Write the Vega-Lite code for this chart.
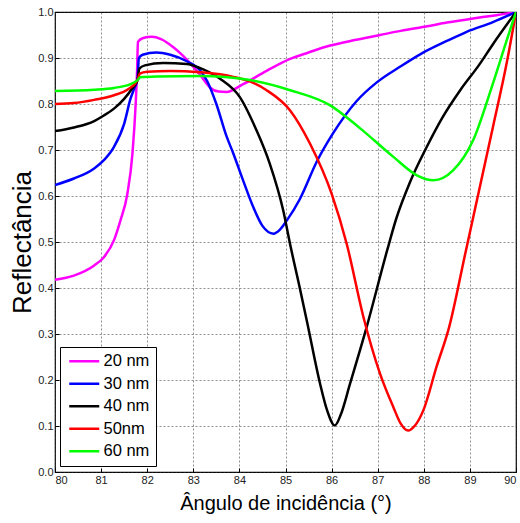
{
  "$schema": "https://vega.github.io/schema/vega-lite/v6.json",
  "autosize": "none",
  "width": 461,
  "height": 460,
  "padding": {"left": 55, "top": 12, "right": 4, "bottom": 51},
  "config": {
    "font": "Liberation Sans",
    "view": {"stroke": "#000", "strokeWidth": 1.2},
    "axis": {
      "grid": true,
      "gridDash": [2, 2],
      "gridColor": "#333",
      "gridOpacity": 0.55,
      "domain": false,
      "tickColor": "#000",
      "tickSize": -4,
      "labelFont": "Liberation Sans",
      "labelFontSize": 11,
      "labelColor": "#222",
      "titleFont": "Liberation Sans",
      "titleFontWeight": "normal",
      "titleColor": "#000"
    }
  },
  "data": {
    "values": [
      {"x": 80.0, "y": 0.418, "s": "20 nm"},
      {"x": 80.41, "y": 0.427, "s": "20 nm"},
      {"x": 80.85, "y": 0.449, "s": "20 nm"},
      {"x": 81.06, "y": 0.467, "s": "20 nm"},
      {"x": 81.28, "y": 0.504, "s": "20 nm"},
      {"x": 81.42, "y": 0.547, "s": "20 nm"},
      {"x": 81.57, "y": 0.605, "s": "20 nm"},
      {"x": 81.68, "y": 0.692, "s": "20 nm"},
      {"x": 81.75, "y": 0.8, "s": "20 nm"},
      {"x": 81.78, "y": 0.87, "s": "20 nm"},
      {"x": 81.8, "y": 0.935, "s": "20 nm"},
      {"x": 81.9, "y": 0.943, "s": "20 nm"},
      {"x": 82.1, "y": 0.946, "s": "20 nm"},
      {"x": 82.3, "y": 0.941, "s": "20 nm"},
      {"x": 82.56, "y": 0.924, "s": "20 nm"},
      {"x": 82.93, "y": 0.889, "s": "20 nm"},
      {"x": 83.15, "y": 0.863, "s": "20 nm"},
      {"x": 83.36, "y": 0.836, "s": "20 nm"},
      {"x": 83.55, "y": 0.827, "s": "20 nm"},
      {"x": 83.72, "y": 0.826, "s": "20 nm"},
      {"x": 84.08, "y": 0.843, "s": "20 nm"},
      {"x": 84.59, "y": 0.872, "s": "20 nm"},
      {"x": 85.1, "y": 0.898, "s": "20 nm"},
      {"x": 85.5, "y": 0.912, "s": "20 nm"},
      {"x": 85.97, "y": 0.927, "s": "20 nm"},
      {"x": 86.5, "y": 0.939, "s": "20 nm"},
      {"x": 87.05, "y": 0.95, "s": "20 nm"},
      {"x": 87.5, "y": 0.959, "s": "20 nm"},
      {"x": 88.07, "y": 0.969, "s": "20 nm"},
      {"x": 88.5, "y": 0.977, "s": "20 nm"},
      {"x": 89.07, "y": 0.986, "s": "20 nm"},
      {"x": 89.5, "y": 0.992, "s": "20 nm"},
      {"x": 90.0, "y": 1.0, "s": "20 nm"},

      {"x": 80.0, "y": 0.624, "s": "30 nm"},
      {"x": 80.41, "y": 0.638, "s": "30 nm"},
      {"x": 80.85, "y": 0.66, "s": "30 nm"},
      {"x": 81.06, "y": 0.678, "s": "30 nm"},
      {"x": 81.28, "y": 0.707, "s": "30 nm"},
      {"x": 81.5, "y": 0.757, "s": "30 nm"},
      {"x": 81.64, "y": 0.812, "s": "30 nm"},
      {"x": 81.72, "y": 0.834, "s": "30 nm"},
      {"x": 81.79, "y": 0.855, "s": "30 nm"},
      {"x": 81.82, "y": 0.9, "s": "30 nm"},
      {"x": 81.9, "y": 0.907, "s": "30 nm"},
      {"x": 82.2, "y": 0.912, "s": "30 nm"},
      {"x": 82.5, "y": 0.907, "s": "30 nm"},
      {"x": 82.86, "y": 0.893, "s": "30 nm"},
      {"x": 83.15, "y": 0.873, "s": "30 nm"},
      {"x": 83.3, "y": 0.85, "s": "30 nm"},
      {"x": 83.5, "y": 0.8, "s": "30 nm"},
      {"x": 83.72, "y": 0.73, "s": "30 nm"},
      {"x": 83.87, "y": 0.692, "s": "30 nm"},
      {"x": 84.08, "y": 0.634, "s": "30 nm"},
      {"x": 84.3, "y": 0.576, "s": "30 nm"},
      {"x": 84.5, "y": 0.535, "s": "30 nm"},
      {"x": 84.74, "y": 0.518, "s": "30 nm"},
      {"x": 84.88, "y": 0.527, "s": "30 nm"},
      {"x": 85.03, "y": 0.547, "s": "30 nm"},
      {"x": 85.31, "y": 0.593, "s": "30 nm"},
      {"x": 85.68, "y": 0.675, "s": "30 nm"},
      {"x": 86.03, "y": 0.736, "s": "30 nm"},
      {"x": 86.54, "y": 0.806, "s": "30 nm"},
      {"x": 86.98, "y": 0.847, "s": "30 nm"},
      {"x": 87.5, "y": 0.882, "s": "30 nm"},
      {"x": 87.92, "y": 0.908, "s": "30 nm"},
      {"x": 88.5, "y": 0.937, "s": "30 nm"},
      {"x": 88.93, "y": 0.957, "s": "30 nm"},
      {"x": 89.5, "y": 0.978, "s": "30 nm"},
      {"x": 90.0, "y": 1.0, "s": "30 nm"},

      {"x": 80.0, "y": 0.741, "s": "40 nm"},
      {"x": 80.41, "y": 0.749, "s": "40 nm"},
      {"x": 80.85, "y": 0.763, "s": "40 nm"},
      {"x": 81.06, "y": 0.775, "s": "40 nm"},
      {"x": 81.28, "y": 0.79, "s": "40 nm"},
      {"x": 81.5, "y": 0.811, "s": "40 nm"},
      {"x": 81.67, "y": 0.833, "s": "40 nm"},
      {"x": 81.79, "y": 0.852, "s": "40 nm"},
      {"x": 81.83, "y": 0.877, "s": "40 nm"},
      {"x": 81.95, "y": 0.884, "s": "40 nm"},
      {"x": 82.35, "y": 0.889, "s": "40 nm"},
      {"x": 82.86, "y": 0.887, "s": "40 nm"},
      {"x": 83.15, "y": 0.878, "s": "40 nm"},
      {"x": 83.58, "y": 0.855, "s": "40 nm"},
      {"x": 84.01, "y": 0.815, "s": "40 nm"},
      {"x": 84.37, "y": 0.743, "s": "40 nm"},
      {"x": 84.66, "y": 0.67, "s": "40 nm"},
      {"x": 84.95, "y": 0.569, "s": "40 nm"},
      {"x": 85.1, "y": 0.495, "s": "40 nm"},
      {"x": 85.31, "y": 0.4, "s": "40 nm"},
      {"x": 85.46, "y": 0.33, "s": "40 nm"},
      {"x": 85.75, "y": 0.192, "s": "40 nm"},
      {"x": 85.9, "y": 0.135, "s": "40 nm"},
      {"x": 86.07, "y": 0.101, "s": "40 nm"},
      {"x": 86.2, "y": 0.125, "s": "40 nm"},
      {"x": 86.4, "y": 0.192, "s": "40 nm"},
      {"x": 86.76, "y": 0.315, "s": "40 nm"},
      {"x": 87.2, "y": 0.48, "s": "40 nm"},
      {"x": 87.4, "y": 0.55, "s": "40 nm"},
      {"x": 87.7, "y": 0.63, "s": "40 nm"},
      {"x": 88.06, "y": 0.706, "s": "40 nm"},
      {"x": 88.4, "y": 0.77, "s": "40 nm"},
      {"x": 88.79, "y": 0.83, "s": "40 nm"},
      {"x": 89.2, "y": 0.885, "s": "40 nm"},
      {"x": 89.5, "y": 0.93, "s": "40 nm"},
      {"x": 90.0, "y": 1.0, "s": "40 nm"},

      {"x": 80.0, "y": 0.8, "s": "50nm"},
      {"x": 80.41, "y": 0.802, "s": "50nm"},
      {"x": 80.85, "y": 0.809, "s": "50nm"},
      {"x": 81.28, "y": 0.819, "s": "50nm"},
      {"x": 81.57, "y": 0.831, "s": "50nm"},
      {"x": 81.79, "y": 0.852, "s": "50nm"},
      {"x": 81.84, "y": 0.866, "s": "50nm"},
      {"x": 82.0, "y": 0.87, "s": "50nm"},
      {"x": 82.5, "y": 0.872, "s": "50nm"},
      {"x": 83.15, "y": 0.869, "s": "50nm"},
      {"x": 83.87, "y": 0.859, "s": "50nm"},
      {"x": 84.3, "y": 0.846, "s": "50nm"},
      {"x": 84.59, "y": 0.83, "s": "50nm"},
      {"x": 85.1, "y": 0.786, "s": "50nm"},
      {"x": 85.53, "y": 0.714, "s": "50nm"},
      {"x": 86.0, "y": 0.605, "s": "50nm"},
      {"x": 86.33, "y": 0.495, "s": "50nm"},
      {"x": 86.69, "y": 0.337, "s": "50nm"},
      {"x": 87.05, "y": 0.214, "s": "50nm"},
      {"x": 87.34, "y": 0.141, "s": "50nm"},
      {"x": 87.5, "y": 0.105, "s": "50nm"},
      {"x": 87.66, "y": 0.09, "s": "50nm"},
      {"x": 87.8, "y": 0.1, "s": "50nm"},
      {"x": 87.99, "y": 0.134, "s": "50nm"},
      {"x": 88.28, "y": 0.23, "s": "50nm"},
      {"x": 88.55, "y": 0.315, "s": "50nm"},
      {"x": 88.9, "y": 0.475, "s": "50nm"},
      {"x": 89.5, "y": 0.75, "s": "50nm"},
      {"x": 89.8, "y": 0.89, "s": "50nm"},
      {"x": 90.0, "y": 1.0, "s": "50nm"},

      {"x": 80.0, "y": 0.828, "s": "60 nm"},
      {"x": 80.85, "y": 0.831, "s": "60 nm"},
      {"x": 81.28, "y": 0.835, "s": "60 nm"},
      {"x": 81.64, "y": 0.843, "s": "60 nm"},
      {"x": 81.79, "y": 0.852, "s": "60 nm"},
      {"x": 81.85, "y": 0.858, "s": "60 nm"},
      {"x": 82.2, "y": 0.86, "s": "60 nm"},
      {"x": 83.15, "y": 0.861, "s": "60 nm"},
      {"x": 84.23, "y": 0.852, "s": "60 nm"},
      {"x": 85.1, "y": 0.83, "s": "60 nm"},
      {"x": 85.97, "y": 0.797, "s": "60 nm"},
      {"x": 86.62, "y": 0.747, "s": "60 nm"},
      {"x": 87.34, "y": 0.685, "s": "60 nm"},
      {"x": 87.85, "y": 0.645, "s": "60 nm"},
      {"x": 88.21, "y": 0.634, "s": "60 nm"},
      {"x": 88.64, "y": 0.656, "s": "60 nm"},
      {"x": 89.07, "y": 0.721, "s": "60 nm"},
      {"x": 89.5, "y": 0.845, "s": "60 nm"},
      {"x": 89.8, "y": 0.939, "s": "60 nm"},
      {"x": 90.0, "y": 1.0, "s": "60 nm"}
    ]
  },
  "mark": {"type": "line", "interpolate": "monotone", "strokeWidth": 2.5, "clip": true},
  "encoding": {
    "x": {
      "field": "x",
      "type": "quantitative",
      "scale": {"domain": [80, 90], "nice": false, "zero": false},
      "axis": {"values": [80, 81, 82, 83, 84, 85, 86, 87, 88, 89, 90], "title": "Ângulo de incidência (°)", "titleFontSize": 20, "titlePadding": 8, "labelPadding": 6}
    },
    "y": {
      "field": "y",
      "type": "quantitative",
      "scale": {"domain": [0, 1], "nice": false},
      "axis": {"values": [0, 0.1, 0.2, 0.3, 0.4, 0.5, 0.6, 0.7, 0.8, 0.9, 1], "title": "Reflectância", "titleFontSize": 26, "titlePadding": 2, "labelPadding": 6}
    },
    "color": {
      "field": "s",
      "type": "nominal",
      "scale": {"domain": ["20 nm", "30 nm", "40 nm", "50nm", "60 nm"], "range": ["#ff00ff", "#0000ff", "#000000", "#ff0000", "#00ff00"]},
      "legend": {
        "title": null,
        "orient": "none",
        "legendX": 5,
        "legendY": 335,
        "strokeColor": "#000",
        "fillColor": "#fff",
        "padding": 6,
        "symbolType": "M-1,0H5",
        "symbolSize": 100,
        "symbolStrokeWidth": 2.5,
        "labelFontSize": 16.5,
        "labelColor": "#000",
        "labelOffset": 21,
        "rowPadding": 5.5
      }
    }
  }
}
